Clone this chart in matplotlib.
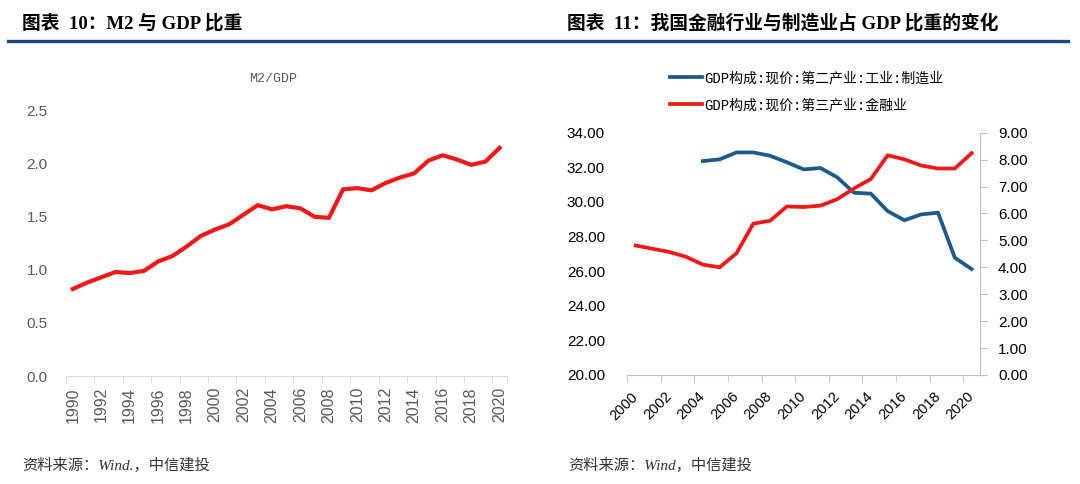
import matplotlib
matplotlib.use("Agg")
import matplotlib.pyplot as plt
from matplotlib.ticker import FormatStrFormatter, FixedLocator

# ---- data ----
m2_years = list(range(1990, 2021))
m2_gdp = [0.82, 0.88, 0.93, 0.98, 0.97, 0.99, 1.08, 1.13, 1.22, 1.32,
          1.38, 1.43, 1.52, 1.61, 1.57, 1.60, 1.58, 1.50, 1.49, 1.76,
          1.77, 1.75, 1.82, 1.87, 1.91, 2.03, 2.08, 2.04, 1.99, 2.02, 2.15]

share_years = list(range(2000, 2021))
manuf_years = list(range(2004, 2021))
manuf_share = [32.36, 32.46, 32.86, 32.86, 32.67, 32.29, 31.88, 31.96, 31.42,
               30.53, 30.48, 29.47, 28.94, 29.28, 29.38, 26.78, 26.12]
fin_share = [4.81, 4.69, 4.57, 4.39, 4.10, 4.00, 4.52, 5.62, 5.73, 6.26,
             6.24, 6.29, 6.53, 6.93, 7.28, 8.16, 8.01, 7.78, 7.67, 7.67, 8.24]

title_left = "图表  10：M2 与 GDP 比重"
title_right = "图表  11：我国金融行业与制造业占 GDP 比重的变化"
source_left = "资料来源：Wind.，中信建投"
source_right = "资料来源：Wind，中信建投"
label_manuf = "GDP构成:现价:第二产业:工业:制造业"
label_fin = "GDP构成:现价:第三产业:金融业"

RED = "#F01818"
BLUE = "#1C5A87"
HEAD = "#17497A"
W, H = 1080, 484

serif_cjk = ["Liberation Serif", "Noto Sans CJK SC"]
mono_cjk = ["Liberation Mono", "Noto Sans CJK SC"]
plt.rcParams["font.family"] = ["Liberation Sans", "Noto Sans CJK SC"]

fig = plt.figure(figsize=(W / 100, H / 100), dpi=100)


def fx(px):
    return px / W


def fy(py):
    return 1 - py / H


# headers and blue rule
fig.text(fx(22), fy(23), title_left, family=serif_cjk, weight="bold",
         fontsize=13.5, va="center", ha="left", color="black")
fig.text(fx(567), fy(23), title_right, family=serif_cjk, weight="bold",
         fontsize=13.5, va="center", ha="left", color="black")
fig.add_artist(plt.Line2D([fx(8), fx(1068)], [fy(40.7), fy(40.7)],
                          color=HEAD, lw=2.4, transform=fig.transFigure))

# sources
fig.text(fx(22), fy(465), source_left, family=serif_cjk, style="italic",
         fontsize=11, va="center", ha="left", color="#333333")
fig.text(fx(568), fy(465), source_right, family=serif_cjk, style="italic",
         fontsize=11, va="center", ha="left", color="#333333")

# ---- left chart: M2/GDP ----
ax = fig.add_axes([fx(65.7), fy(376), fx(441), (376 - 110.7) / H])
xi = list(range(len(m2_years)))
ax.plot(xi, m2_gdp, color=RED, lw=3, solid_joinstyle="round")
ax.set_xlim(-0.5, len(m2_years) - 0.5)
ax.set_ylim(0, 2.5)
ax.set_yticks([0, 0.5, 1.0, 1.5, 2.0, 2.5])
ax.yaxis.set_major_formatter(FormatStrFormatter("%.1f"))
ax.set_xticks(xi[::2])
ax.set_xticklabels([str(y) for y in m2_years[::2]], rotation=90)
ax.xaxis.set_minor_locator(FixedLocator([i - 0.5 for i in xi[::2]] + [len(m2_years) - 0.5]))
ax.tick_params(axis="x", which="major", length=0, pad=8, labelsize=11.5, labelcolor="#595959")
ax.tick_params(axis="x", which="minor", length=5, color="#D9D9D9", direction="out")
ax.tick_params(axis="y", length=0, pad=13, labelsize=11, labelcolor="#595959")
for s in ["top", "right", "left"]:
    ax.spines[s].set_visible(False)
ax.spines["bottom"].set_color("#D9D9D9")
fig.text(fx(273), fy(79), "M2/GDP", family=mono_cjk, fontsize=9.5,
         color="#595959", ha="center", va="center")

# ---- right chart: shares ----
axl = fig.add_axes([fx(627.3), fy(375), fx(352.7), (375 - 132.7) / H])
axr = axl.twinx()
xs = list(range(len(share_years)))
off = share_years.index(manuf_years[0])
hb, = axl.plot([off + i for i in range(len(manuf_years))], manuf_share,
               color=BLUE, lw=2.7, solid_joinstyle="round")
hr, = axr.plot(xs, fin_share, color=RED, lw=2.7, solid_joinstyle="round")
axl.set_xlim(-0.5, len(share_years) - 0.5)
axl.set_ylim(20, 34)
axl.set_yticks(range(20, 35, 2))
axl.yaxis.set_major_formatter(FormatStrFormatter("%.2f"))
axr.set_ylim(0, 9)
axr.set_yticks(range(0, 10))
axr.yaxis.set_major_formatter(FormatStrFormatter("%.2f"))
axl.set_xticks(xs[::2])
axl.set_xticklabels([str(y) for y in share_years[::2]], rotation=45,
                    ha="right", va="center", rotation_mode="anchor")
axl.xaxis.set_minor_locator(FixedLocator([i - 0.5 for i in xs[::2]]))
axl.tick_params(axis="x", which="major", length=0, pad=14, labelsize=10.5)
axl.tick_params(axis="x", which="minor", length=5, color="#BFBFBF", direction="out")
axl.tick_params(axis="y", length=0, pad=16, labelsize=11)
axr.tick_params(axis="y", length=5, color="#BFBFBF", direction="out", pad=8, labelsize=11)
for a in (axl, axr):
    a.spines["top"].set_visible(False)
    a.spines["left"].set_visible(False)
axl.spines["right"].set_visible(False)
axr.spines["bottom"].set_visible(False)
axr.spines["right"].set_color("#BFBFBF")
axl.spines["bottom"].set_color("#BFBFBF")

fig.legend([hb, hr], [label_manuf, label_fin], loc="upper left",
           bbox_to_anchor=(fx(670), fy(71)), frameon=False,
           prop={"family": mono_cjk, "size": 10}, handlelength=2.3,
           handletextpad=0.2, labelspacing=0.95, borderpad=0, borderaxespad=0)

fig.savefig("out.png", dpi=100)
